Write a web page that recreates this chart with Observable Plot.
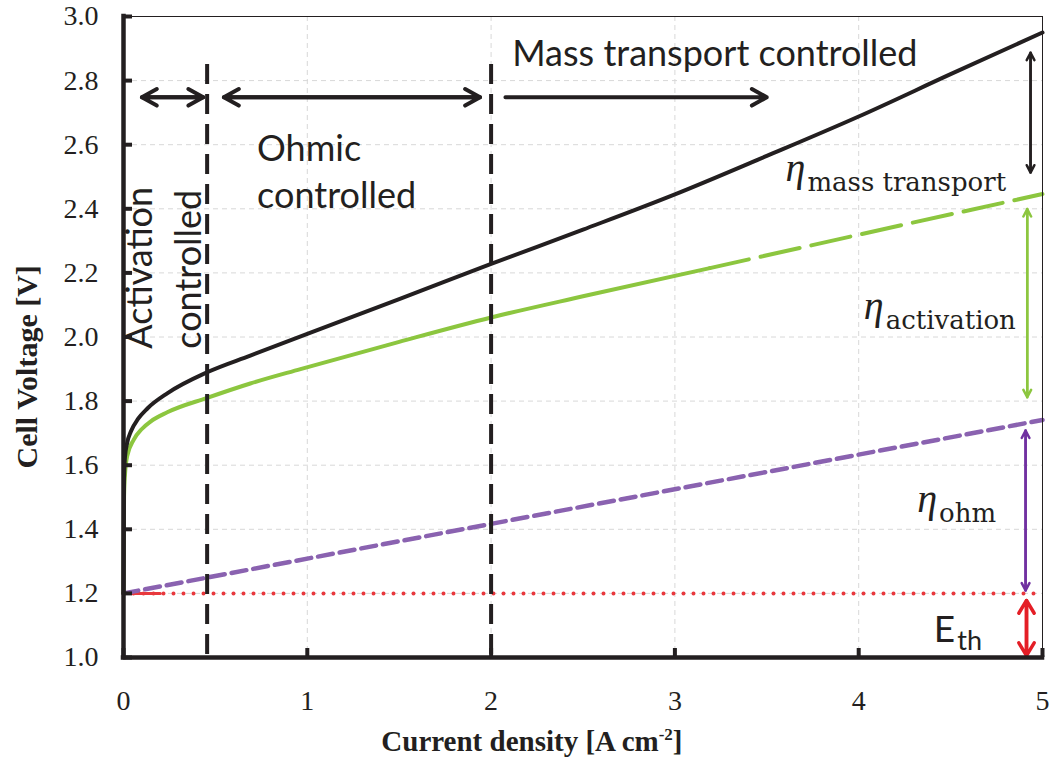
<!DOCTYPE html>
<html>
<head>
<meta charset="utf-8">
<script src="https://cdn.jsdelivr.net/npm/d3@7"></script>
<script src="https://cdn.jsdelivr.net/npm/@observablehq/plot@0.6"></script>
<style>
  body { margin: 0; background: #fff; }
</style>
</head>
<body>
<div id="chart"></div>
<script>
// Axis ticks: current density [A cm^-2] and cell voltage [V]
const xTicks = [0, 1, 2, 3, 4, 5];
const yTicks = [1.0, 1.2, 1.4, 1.6, 1.8, 2.0, 2.2, 2.4, 2.6, 2.8, 3.0];

// Total cell voltage (thermodynamic + ohmic + activation + mass transport)
const totalJ = [0, 0.003, 0.008, 0.02, 0.04, 0.08, 0.13, 0.24, 0.455, 0.69, 1, 1.5, 2, 2.5, 3, 3.5, 4, 4.5, 5];
const totalV = [1.2, 1.56, 1.625, 1.67, 1.705, 1.745, 1.777, 1.825, 1.89, 1.942, 2.01, 2.118, 2.228, 2.335, 2.445, 2.565, 2.688, 2.82, 2.95];

// Thermodynamic + ohmic + activation (measured part, then extrapolated)
const actJ = [0, 0.003, 0.008, 0.02, 0.056, 0.1, 0.147, 0.238, 0.455, 0.69, 0.963, 1.5, 2, 2.5, 3.19];
const actV = [1.2, 1.5, 1.57, 1.628, 1.68, 1.713, 1.736, 1.765, 1.81, 1.855, 1.9, 1.985, 2.061, 2.127, 2.215];
const actExtJ = [3.19, 4.28, 5];
const actExtV = [2.215, 2.355, 2.446];

// Thermodynamic + ohmic
const ohmJ = [0, 2, 5];
const ohmV = [1.2, 1.417, 1.741];

// Thermodynamic voltage E_th
const ethJ = [0, 5];
const ethV = [1.2, 1.2];
const ethStartJ = [0, 0.2];
const ethStartV = [1.2, 1.2];

// Region boundaries (current density) and their top end (voltage)
const boundaries = [0.455, 2.0];
const boundaryTop = 2.85;

// Region arrows along the top
const spanX1 = [0.10, 0.546, 2.078];
const spanX2 = [0.434, 1.94, 3.50];
const spanBoth = [true, true, false];
const spanY = 2.748;

// Overpotential brackets at the right edge
const bracketX = [4.935, 4.917, 4.908];
const bracketTop = [2.887, 2.399, 1.708];
const bracketBottom = [2.513, 1.812, 1.209];
const bracketColor = ["#231f20", "#8cc63f", "#7030a0"];
const ethBracket = {x: 4.913, top: 1.178, bottom: 1.006};

// Region names
const regionText = ["Mass transport controlled", "Ohmic", "controlled", "Activation", "controlled"];
const regionX = [2.115, 0.727, 0.727, 0.156, 0.423];
const regionY = [2.846, 2.55, 2.404, 1.9635, 1.9635];
const regionRotate = [0, 0, 0, -90, -90];

// Overpotential labels (symbol + subscript)
const etaSub = ["mass transport", "activation", "ohm"];
const etaX = [3.602, 4.028, 4.318];
const etaY = [2.487, 2.057, 1.453];
const ethLabel = {x: 4.409, y: 1.048, main: "E", sub: "th"};

const ink = "#231f20";
const green = "#8cc63f";
const purple = "#8a62b0";
const red = "#e8383d";

const rows = (J, V) => J.map((j, i) => ({j, v: V[i]}));

const spans = spanX1.map((x1, i) => ({x1, x2: spanX2[i], both: spanBoth[i]}));
const spanHeads = spans.flatMap(s => s.both
  ? [{a: s.x1, b: s.x2}, {a: s.x2, b: s.x1}]
  : [{a: s.x1, b: s.x2}]);

const brackets = bracketX.flatMap((x, i) => [
  {x, a: bracketTop[i], b: bracketBottom[i], c: bracketColor[i]},
  {x, a: bracketBottom[i], b: bracketTop[i], c: bracketColor[i]}
]);
const ethBrackets = [
  {x: ethBracket.x, a: ethBracket.top, b: ethBracket.bottom},
  {x: ethBracket.x, a: ethBracket.bottom, b: ethBracket.top}
];

const regions = regionText.map((t, i) => ({t, x: regionX[i], y: regionY[i], r: regionRotate[i]}));
const etas = etaSub.map((sub, i) => ({main: "\u03B7", sub, x: etaX[i], y: etaY[i]}));
const xTitle = "Current density [A cm";

const serif = "'Liberation Serif', 'Times New Roman', serif";
const sans = "Lato, 'Open Sans', sans-serif";

const chart = Plot.plot({
  width: 1055,
  height: 761,
  marginLeft: 123,
  marginRight: 13,
  marginTop: 16,
  marginBottom: 104,
  x: {domain: [0, 5]},
  y: {domain: [1, 3]},
  color: {type: "identity"},
  style: {fontFamily: serif, fontSize: "28px", color: ink, background: "#fff"},
  marks: [
    Plot.gridX(xTicks, {stroke: "#d8d8d8", strokeOpacity: 1, strokeDasharray: "5,4"}),
    Plot.gridY(yTicks, {stroke: "#d8d8d8", strokeOpacity: 1, strokeDasharray: "5,4"}),

    // curves
    Plot.line(rows(ethJ, ethV), {x: "j", y: "v", stroke: red, strokeWidth: 4, strokeDasharray: "0,10", strokeLinecap: "round"}),
    Plot.line(rows(ethStartJ, ethStartV), {x: "j", y: "v", stroke: red, strokeWidth: 3}),
    Plot.line(rows(ohmJ, ohmV), {x: "j", y: "v", stroke: purple, strokeWidth: 4.5, strokeDasharray: "15,7"}),
    Plot.line(rows(actJ, actV), {x: "j", y: "v", stroke: green, strokeWidth: 4, curve: "monotone-x"}),
    Plot.line(rows(actExtJ, actExtV), {x: "j", y: "v", stroke: green, strokeWidth: 4, strokeDasharray: "40,12"}),
    Plot.line(rows(totalJ, totalV), {x: "j", y: "v", stroke: ink, strokeWidth: 4, curve: "monotone-x"}),

    // region boundaries
    Plot.ruleX(boundaries, {y1: boundaryTop, y2: 1, stroke: ink, strokeWidth: 4, strokeDasharray: "20,10"}),

    // region arrows (head length in Plot scales with stroke width)
    Plot.arrow(spanHeads, {x1: "a", x2: "b", y1: spanY, y2: spanY, stroke: ink, strokeWidth: 4, headLength: 6.4, headAngle: 58}),

    // overpotential brackets
    Plot.arrow(brackets, {x1: "x", x2: "x", y1: "a", y2: "b", stroke: "c", strokeWidth: 2.5, headLength: 5, headAngle: 55}),
    Plot.arrow(ethBrackets, {x1: "x", x2: "x", y1: "a", y2: "b", stroke: "#e41e26", strokeWidth: 3.5, headLength: 6.4, headAngle: 62}),

    // region names
    Plot.text(regions, {x: "x", y: "y", text: "t", rotate: "r", textAnchor: "start", lineAnchor: "bottom",
      fontFamily: sans, fontSize: 36, fill: ink}),

    // overpotential labels
    Plot.text(etas, {x: "x", y: "y", text: d => d.main + d.sub, textAnchor: "start", lineAnchor: "bottom",
      fontFamily: "'DejaVu Serif', serif", fontSize: 26, fill: ink}),
    Plot.text([ethLabel], {x: "x", y: "y", text: d => d.main + d.sub, textAnchor: "start", lineAnchor: "bottom",
      fontFamily: sans, fontSize: 27, fill: ink}),

    // axis titles
    Plot.text([xTitle], {x: 2.222, y: 1, dy: 93, text: d => d, textAnchor: "middle", lineAnchor: "bottom",
      fontWeight: "bold", fontSize: 29, fill: ink}),
    Plot.text(["Cell Voltage [V]"], {x: 0, y: 1.907, dx: -87, text: d => d, rotate: -90, textAnchor: "middle", lineAnchor: "bottom",
      fontWeight: "bold", fontSize: 30, fill: ink}),

    // axes: inward ticks, then labels
    Plot.axisX(xTicks, {anchor: "bottom", tickSize: 9, dy: -9, tickFormat: () => "", stroke: ink, strokeWidth: 4, label: null}),
    Plot.axisX(xTicks, {anchor: "bottom", tickSize: 0, tickPadding: 33, tickFormat: d => String(d), fill: ink, label: null}),
    Plot.axisY(yTicks, {anchor: "left", tickSize: 9, dx: 9, tickFormat: () => "", stroke: ink, strokeWidth: 4, label: null}),
    Plot.axisY(yTicks, {anchor: "left", tickSize: 0, tickPadding: 25, tickFormat: d3.format(".1f"), fill: ink, label: null}),

    Plot.frame({stroke: ink, strokeWidth: 1}),
    Plot.ruleX([0], {stroke: ink, strokeWidth: 4.5, strokeLinecap: "square"}),
    Plot.ruleY([1], {stroke: ink, strokeWidth: 4.5, strokeLinecap: "square"})
  ]
});

// symbol + subscript / superscript typography, applied to the rendered text
d3.select(chart).selectAll("text").each(function() {
  const el = d3.select(this);
  const content = this.textContent;
  const eta = etas.find(d => d.main + d.sub === content);
  if (eta) {
    el.text(null);
    el.append("tspan").attr("font-family", serif).attr("font-style", "italic").attr("font-size", 40).text(eta.main);
    el.append("tspan").attr("dx", 2).attr("dy", 10).text(eta.sub);
  } else if (content === ethLabel.main + ethLabel.sub) {
    el.text(null);
    el.append("tspan").attr("font-size", 37).text(ethLabel.main);
    el.append("tspan").attr("dx", 2).attr("dy", 8).text(ethLabel.sub);
  } else if (content === xTitle) {
    el.append("tspan").attr("font-size", 17).attr("dy", -11).text("-2");
    el.append("tspan").attr("dy", 11).text("]");
  }
});

document.getElementById("chart").appendChild(chart);
</script>
</body>
</html>
